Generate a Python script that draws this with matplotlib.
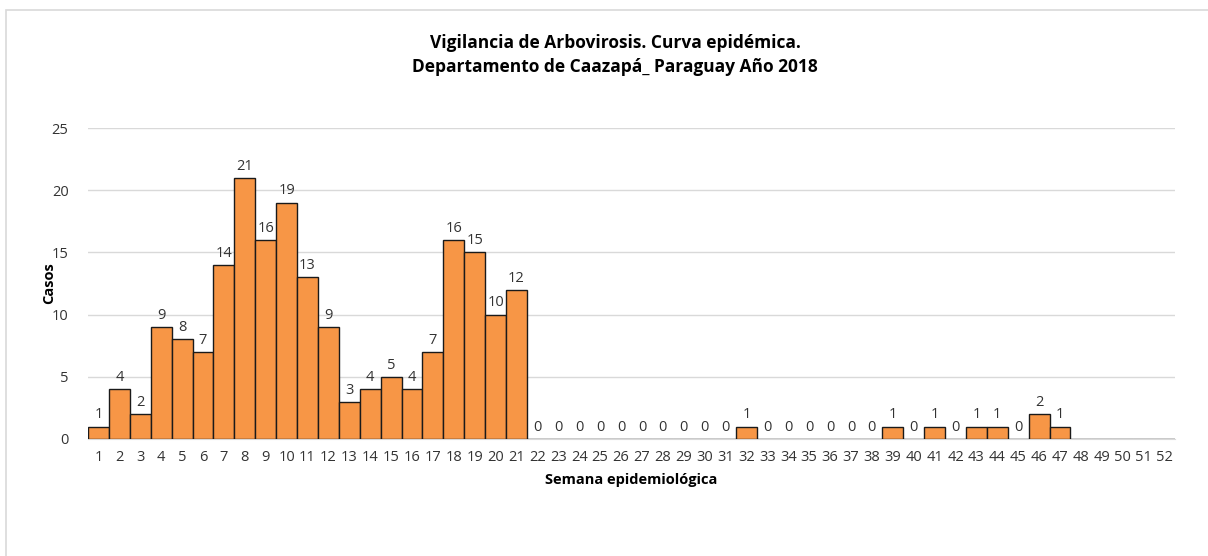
import matplotlib
matplotlib.use("Agg")
from matplotlib import pyplot as plt
from matplotlib.patches import Rectangle
import numpy as np

plt.rcParams['font.family'] = ['Open Sans', 'DejaVu Sans']

semanas = list(range(1, 53))
casos = [1, 4, 2, 9, 8, 7, 14, 21, 16, 19, 13, 9, 3, 4, 5, 4, 7, 16, 15, 10,
         12, 0, 0, 0, 0, 0, 0, 0, 0, 0, 0, 1, 0, 0, 0, 0, 0, 0, 1, 0,
         1, 0, 1, 1, 0, 2, 1, None, None, None, None, None]

titulo = "Vigilancia de Arbovirosis. Curva epidémica.\nDepartamento de Caazapá_ Paraguay Año 2018"

fig = plt.figure(figsize=(12.08, 5.56), dpi=100)
# outer frame of the chart area
fig.patches.append(Rectangle((6 / 1208, -0.1), 1.2, (556 - 10) / 556 + 0.1,
                             transform=fig.transFigure, fill=False,
                             edgecolor='#d9d9d9', linewidth=1.2))

ax = fig.add_axes([88 / 1208, 1 - 439 / 556, 1087 / 1208, 311 / 556])

vals = np.array([np.nan if v is None else v for v in casos], dtype=float)
ax.bar(semanas, np.nan_to_num(vals), width=1.0, color='#F79646',
       edgecolor='#1a1a1a', linewidth=1.0, zorder=3)

for s, v in zip(semanas, casos):
    if v is None:
        continue
    ax.annotate(str(v), (s, v), xytext=(0, 3), textcoords='offset points',
                ha='center', va='bottom', fontsize=10.5, color='#333333')

ax.set_xlim(0.5, 52.5)
ax.set_ylim(0, 25)
ax.set_yticks(range(0, 26, 5))
ax.set_xticks(semanas)
ax.grid(axis='y', color='#d9d9d9', linewidth=1, zorder=0)
for side in ['top', 'right', 'left']:
    ax.spines[side].set_visible(False)
ax.spines['bottom'].set_color('#d9d9d9')
ax.tick_params(axis='both', length=0, labelsize=10.5, labelcolor='#333333')
ax.tick_params(axis='x', pad=8)
ax.tick_params(axis='y', pad=14)

ax.set_xlabel('Semana epidemiológica', fontsize=10.5, fontweight='bold', labelpad=6)
ax.set_ylabel('Casos', fontsize=10.5, fontweight='bold', labelpad=-3)
fig.text(615 / 1208, 1 - 55 / 556, titulo, ha='center', va='center',
         fontsize=12.5, fontweight='bold', linespacing=1.45)

fig.savefig('out.png', dpi=100, facecolor='white')
